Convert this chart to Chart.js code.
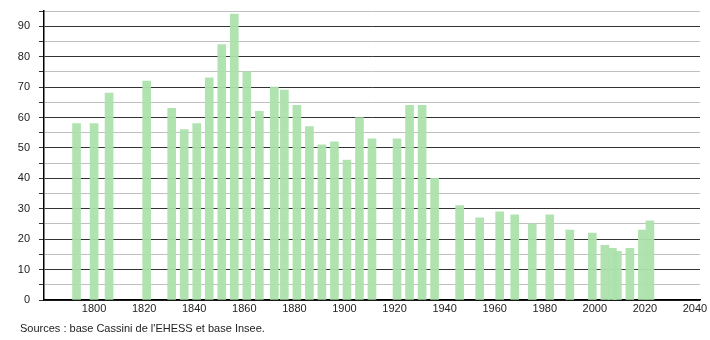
<!DOCTYPE html>
<html>
<head>
<meta charset="utf-8">
<script src="https://cdn.jsdelivr.net/npm/chart.js@4/dist/chart.umd.min.js"></script>
<style>
  body { margin: 0; background: #fff; }
  #wrap { position: relative; width: 710px; height: 340px; }
  #source {
    position: absolute; left: 20px; top: 322px;
    font: 11px "Liberation Sans", Arial, sans-serif; color: #222;
  }
</style>
</head>
<body>
<div id="wrap">
  <canvas id="myChart" width="710" height="340"></canvas>
  <div id="source">Sources : base Cassini de l'EHESS et base Insee.</div>
</div>
<script>
// Années de recensement et population
const annees = [1793, 1800, 1806, 1821, 1831, 1836, 1841, 1846, 1851, 1856, 1861, 1866,
  1872, 1876, 1881, 1886, 1891, 1896, 1901, 1906, 1911, 1921, 1926, 1931, 1936,
  1946, 1954, 1962, 1968, 1975, 1982, 1990, 1999, 2004, 2007, 2009, 2014, 2019, 2022];
const population = [58, 58, 68, 72, 63, 56, 58, 73, 84, 94, 75, 62,
  70, 69, 64, 57, 51, 52, 46, 60, 53, 53, 64, 64, 40,
  31, 27, 29, 28, 25, 28, 23, 22, 18, 17, 16, 17, 23, 26];
// Graduations de l'axe des années
const graduationsX = [1800, 1820, 1840, 1860, 1880, 1900, 1920, 1940, 1960, 1980, 2000, 2020, 2040];

const couleurBarre = "rgba(172, 226, 172, 0.95)";
const policeAxe = { family: "'Liberation Sans', Arial, sans-serif", size: 11 };

const ctx = document.getElementById("myChart");
new Chart(ctx, {
  type: "bar",
  data: {
    datasets: [{
      data: annees.map((a, i) => ({ x: a, y: population[i] })),
      backgroundColor: couleurBarre,
      borderWidth: 0,
      barThickness: 8,
    }],
  },
  options: {
    responsive: false,
    animation: false,
    layout: { padding: { top: 11, right: 10, left: 0, bottom: 0 } },
    plugins: { legend: { display: false }, tooltip: { enabled: false } },
    scales: {
      x: {
        type: "linear",
        offset: false,
        min: 1780,
        max: 2042,
        grid: { display: false, drawTicks: false },
        border: { display: true, color: "#000", width: 1.5 },
        ticks: {
          color: "#222",
          font: policeAxe,
          padding: 2,
          maxRotation: 0,
          autoSkip: false,
          callback: (v) => String(v),
        },
        afterBuildTicks: (axis) => { axis.ticks = graduationsX.map((v) => ({ value: v })); },
        afterFit: (axis) => { axis.height = 40; },
      },
      y: {
        min: 0,
        max: 95,
        grid: {
          color: (c) => (c.tick && c.tick.value % 10 === 0 ? "#333" : "#c0c0c0"),
          tickColor: "#333",
          tickLength: 5,
        },
        border: { display: true, color: "#000", width: 1.5 },
        ticks: {
          stepSize: 5,
          autoSkip: false,
          color: "#222",
          font: policeAxe,
          padding: 9,
          callback: (v) => (v % 10 === 0 ? String(v) : ""),
        },
        afterFit: (axis) => {
          axis.width = 44;
          axis.paddingTop = 0;
          axis.paddingBottom = 0;
        },
      },
    },
  },
});
</script>
</body>
</html>
